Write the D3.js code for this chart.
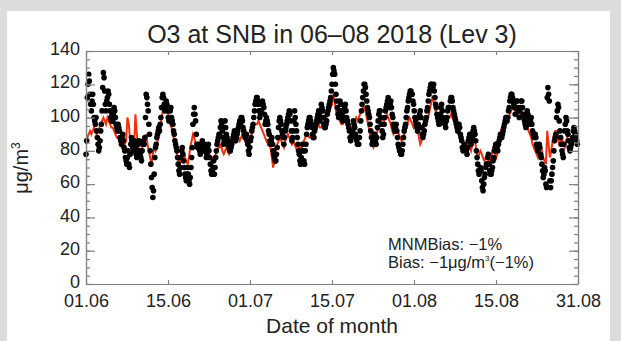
<!DOCTYPE html>
<html>
<head>
<meta charset="utf-8">
<script src="https://cdn.jsdelivr.net/npm/d3@7"></script>
<style>
body { margin: 0; background: #dcdcdc; }
svg { display: block; font-family: "Liberation Sans", Arial, sans-serif; }
.axis path, .axis line { stroke: #808080; stroke-width: 1.2; }
.axis text { fill: #222; font-size: 18px; }
</style>
</head>
<body>
<svg id="chart" width="621" height="341"></svg>
<script>
// observations, 8 per day (every 3 h), 01.06 - 31.08
var obs = [
  78,86,112,120,126,122,114,108, 104,110,114,108,100,98,96,100, 92,88,84,80,82,86,92,96,
  104,118,127,124,116,108,104,110, 112,116,114,108,104,100,98,102, 98,102,106,104,100,96,94,92,
  96,94,92,88,86,84,88,90, 86,82,80,76,74,72,76,80, 72,70,78,84,88,86,82,80,
  86,84,82,78,76,80,84,86, 80,78,76,74,80,84,86,84, 88,100,114,112,108,104,96,90,
  80,72,64,58,52,56,66,76, 82,84,88,90,92,94,92,96, 100,106,112,114,112,108,104,106,
  110,108,104,100,98,100,104,106, 100,98,96,92,90,86,84,82, 80,76,72,68,66,70,76,80,
  82,78,74,70,66,64,62,66, 70,66,62,60,64,70,76,82, 96,102,106,102,98,90,84,82,
  84,82,80,78,80,82,86,84, 80,82,84,80,76,78,82,84, 80,76,72,68,66,68,70,74,
  66,70,76,80,84,86,88,90, 90,94,98,96,92,88,84,86, 98,94,90,88,86,84,82,80,
  80,82,84,86,88,90,92,90, 86,88,90,92,94,96,98,96, 100,100,98,94,92,90,88,88,
  90,86,84,80,78,82,86,88, 92,94,96,100,104,108,110,112, 112,110,108,104,100,102,104,108,
  110,108,106,102,96,98,100,98, 96,92,90,86,84,86,88,84, 80,78,76,74,74,78,82,88,
  94,98,100,98,96,92,90,88, 84,88,92,94,96,98,100,102, 104,102,98,92,86,88,92,98,
  104,100,96,92,88,84,80,78, 74,72,76,80,84,80,74,72, 80,84,90,94,96,98,100,100,
  98,96,94,90,88,88,92,94, 96,98,100,102,104,102,98,100, 108,106,104,100,96,94,94,96,
  98,102,104,106,108,110,112,116, 120,126,130,128,126,120,114,110, 106,102,100,104,110,108,104,102,
  98,100,104,106,108,104,100,98, 96,94,92,88,86,88,90,92, 98,96,94,90,88,86,84,84,
  84,88,92,98,104,108,112,116, 120,120,118,114,110,106,104,102, 100,96,92,88,84,86,88,90,
  90,86,84,88,94,98,102,104, 104,100,96,92,88,90,96,100, 104,106,108,110,112,110,106,108,
  110,106,102,100,96,94,92,94, 96,92,88,84,82,80,80,78, 78,80,84,88,92,94,96,100,
  104,106,110,112,114,116,116,114, 114,110,108,104,100,98,96,94, 92,96,100,102,104,100,94,90,
  88,90,92,96,98,100,104,106, 110,114,116,118,120,120,118,118, 120,116,112,108,106,102,100,98,
  96,100,102,106,108,104,100,98, 98,96,94,98,100,104,106,106, 106,110,112,112,110,106,104,102,
  100,98,96,94,92,94,96,94, 90,88,86,82,80,82,84,82, 82,80,78,82,86,88,90,88,
  84,86,88,92,94,92,90,86, 80,76,72,68,66,68,70,68, 62,58,56,60,64,66,70,72,
  72,76,78,72,68,66,66,68, 70,74,76,80,82,84,84,82, 80,84,86,88,90,90,88,90,
  92,94,96,98,100,100,98,100, 104,106,110,112,114,114,112,110, 108,106,102,106,110,110,106,104,
  100,104,106,110,110,106,102,100, 98,96,94,98,104,102,100,98, 96,98,100,96,92,90,88,90,
  90,88,84,82,80,82,84,82, 78,76,72,68,64,66,70,68, 60,58,112,118,114,110,62,58,
  62,66,70,74,80,86,88,90, 100,104,108,106,98,92,88,84, 80,78,76,84,92,96,100,98,
  92,90,86,82,80,82,84,86, 88,92,94,92,90,88,86,84
];
// model, 4 per day (every 6 h)
var model = [
  84,88,90,92, 90,92,94,92, 90,92,94,96, 98,100,98,96, 100,98,96,94,
  94,92,90,88, 88,86,84,82, 80,84,86,100, 96,86,82,80, 84,102,90,82,
  80,78,82,84, 86,90,84,80, 76,72,78,82, 80,84,88,92, 96,102,106,108,
  106,104,100,96, 94,90,86,82, 78,74,72,76, 78,80,76,74, 72,76,82,86,
  90,88,84,82, 80,78,80,82, 80,78,76,78, 78,76,74,76, 76,78,80,82,
  82,84,80,78, 80,82,80,78, 80,82,84,86, 88,90,88,86, 88,90,88,86,
  84,82,86,88, 90,94,96,96, 96,98,96,94, 92,90,88,86, 84,86,82,76,
  70,74,80,84, 86,88,86,84, 82,86,88,90, 88,86,84,86, 84,82,80,82,
  82,80,84,86, 88,90,90,88, 88,90,92,90, 92,94,96,94, 94,96,98,100,
  100,102,104,106, 108,114,110,104, 102,100,98,96, 96,98,100,98, 96,94,92,94,
  96,98,100,98, 100,102,104,106, 106,104,100,96, 92,88,84,82, 84,88,92,94,
  96,98,100,98, 100,102,100,98, 96,92,90,92, 94,92,90,88, 86,88,90,92,
  94,98,100,98, 96,94,96,98, 94,88,84,86, 90,94,96,98, 100,104,108,112,
  110,106,102,100, 100,98,96,98, 98,96,98,100, 100,102,100,98, 100,98,96,94,
  90,86,84,82, 84,86,84,82, 80,84,90,86, 80,76,78,80, 78,76,74,76,
  78,74,72,76, 80,82,78,76, 80,86,90,94, 96,98,96,98, 100,102,104,106,
  106,104,104,102, 100,102,100,98, 98,100,96,92, 90,88,84,82, 80,78,76,80,
  84,80,76,74, 72,92,84,76, 80,86,90,92, 92,88,84,86, 88,84,82,86,
  88,86,84,82, 84,86,88,86
];
var obsStep = 0.125, modelStep = 0.25; // days
var nDays = 92;
var xTickLabels = ['01.06', '15.06', '01.07', '15.07', '01.08', '15.08', '31.08'];
var yTicks = [0, 20, 40, 60, 80, 100, 120, 140];
var yMinorTicks = d3.range(0, 141, 5);
var title = 'O3 at SNB in 06\u201308 2018 (Lev 3)';
var statLines = ['MNMBias: \u22121%', 'Bias: \u22121\u03bcg/m'];

var svg = d3.select('#chart');
var pLeft = 86, pRight = 578, pTop = 51, pBottom = 284;

svg.append('rect').attr('x', 7).attr('y', 11).attr('width', 603).attr('height', 330).attr('fill', '#fff');

var x = d3.scaleLinear().domain([0, nDays]).range([pLeft, pRight]);
var y = d3.scaleLinear().domain([0, 140]).range([pBottom, pTop]);

var xTicks = xTickLabels.map(function(d, i) { return nDays * i / (xTickLabels.length - 1); });

// model line
var line = d3.line()
    .x(function(d, i) { return x(i * modelStep); })
    .y(function(d) { return y(d); });
svg.append('path')
    .datum(model)
    .attr('fill', 'none')
    .attr('stroke', '#f2300c')
    .attr('stroke-width', 2)
    .attr('d', line);

// observations
svg.append('g').selectAll('circle')
    .data(obs)
    .enter().append('circle')
    .attr('cx', function(d, i) { return x(i * obsStep); })
    .attr('cy', function(d) { return y(d); })
    .attr('r', 2.8)
    .attr('fill', '#000');

// axes
var xAxisB = d3.axisBottom(x).tickValues(xTicks).tickSize(-4).tickSizeOuter(0).tickPadding(10)
    .tickFormat(function(d, i) { return xTickLabels[i]; });
var xAxisT = d3.axisTop(x).tickValues(xTicks).tickSize(-4).tickSizeOuter(0).tickFormat('');
var yAxisL = d3.axisLeft(y).tickValues(yTicks).tickSize(-9).tickSizeOuter(0).tickPadding(6);
var yAxisR = d3.axisRight(y).tickValues(yTicks).tickSize(-9).tickSizeOuter(0).tickFormat('');
var yMinorL = d3.axisLeft(y).tickValues(yMinorTicks).tickSize(-4).tickSizeOuter(0).tickFormat('');
var yMinorR = d3.axisRight(y).tickValues(yMinorTicks).tickSize(-4).tickSizeOuter(0).tickFormat('');

svg.append('g').attr('class', 'axis').attr('transform', 'translate(0,' + pBottom + ')').call(xAxisB);
svg.append('g').attr('class', 'axis').attr('transform', 'translate(0,' + pTop + ')').call(xAxisT);
svg.append('g').attr('class', 'axis').attr('transform', 'translate(' + pLeft + ',0)').call(yMinorL);
svg.append('g').attr('class', 'axis y-left').attr('transform', 'translate(' + pLeft + ',0)').call(yAxisL);
svg.selectAll('.y-left text').attr('dy', '0.2em');
svg.append('g').attr('class', 'axis').attr('transform', 'translate(' + pRight + ',0)').call(yMinorR);
svg.append('g').attr('class', 'axis').attr('transform', 'translate(' + pRight + ',0)').call(yAxisR);

svg.append('text')
    .attr('x', (pLeft + pRight) / 2).attr('y', 43)
    .attr('text-anchor', 'middle')
    .attr('font-size', 25).attr('fill', '#222')
    .text(title);

svg.append('text')
    .attr('x', (pLeft + pRight) / 2).attr('y', 333)
    .attr('text-anchor', 'middle')
    .attr('font-size', 21).attr('fill', '#222')
    .text('Date of month');

var yl = svg.append('text')
    .attr('transform', 'translate(28,168) rotate(-90)')
    .attr('text-anchor', 'middle')
    .attr('font-size', 20).attr('fill', '#222');
yl.append('tspan').text('\u03bcg/m');
yl.append('tspan').attr('font-size', 12).attr('dy', -8).text('3');

svg.append('text')
    .attr('x', 388).attr('y', 250)
    .attr('font-size', 16.5).attr('fill', '#222')
    .text(statLines[0]);
var st = svg.append('text')
    .attr('x', 388).attr('y', 268)
    .attr('font-size', 16.5).attr('fill', '#222');
st.append('tspan').text(statLines[1]);
st.append('tspan').attr('font-size', 8).attr('dy', -7).text('3');
st.append('tspan').attr('dy', 7).text('(\u22121%)');
</script>
</body>
</html>
